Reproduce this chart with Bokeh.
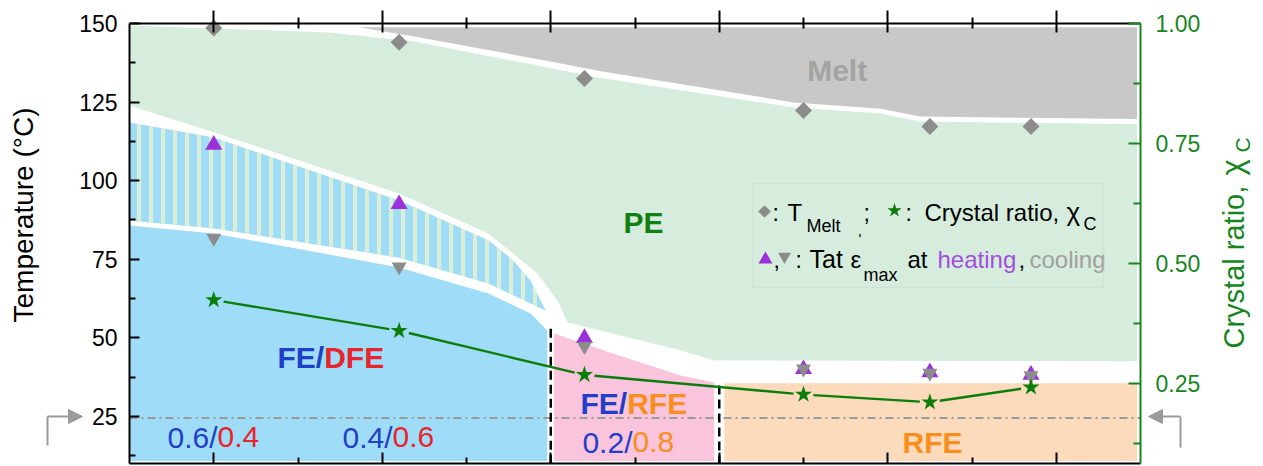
import numpy as np
from bokeh.plotting import figure
from bokeh.models import (LinearAxis, Range1d, FixedTicker, PrintfTickFormatter,
                          Arrow, NormalHead, BoxAnnotation)
from bokeh.core.properties import value
from bokeh.embed import file_html
from bokeh.resources import INLINE

# ----------------------------- data -----------------------------
x_comp = [0.0, 1.1, 2.2, 3.5, 4.25, 4.85]            # sample positions
t_melt = [148.6, 144.0, 132.5, 122.3, 117.2, 117.2]   # T_Melt (diamonds)
t_heat = [111.4, 92.5, 49.9, 40.0, 39.0, 38.2]        # T at eps'max, heating
t_cool = [81.7, 72.6, 47.3, 40.1, 38.8, 38.0]         # T at eps'max, cooling
chi_c = [0.424, 0.360, 0.268, 0.227, 0.211, 0.242]    # crystal ratio

temp_ticks = [25, 50, 75, 100, 125, 150]
chi_ticks = [0.25, 0.50, 0.75, 1.00]
comp_ticks = [0, 1, 2, 3, 4, 5]

ratio_fe = ["0.6/", "0.4/", "0.2/"]
ratio_other = ["0.4", "0.6", "0.8"]

# phase-region boundaries (x, T)
melt_x = [0.86, 5.48, 5.48, 4.19, 3.96, 3.44, 2.28, 2.06, 1.19]
melt_t = [148.8, 148.8, 119.6, 120.4, 122.9, 124.9, 135.0, 137.3, 145.9]
pe_x = [-0.5, 0.69, 1.19, 2.28, 3.44, 3.96, 4.19, 5.48, 5.48, 2.97, 2.77, 2.1,
        2.04, 1.92, 1.63, 1.1, 0.0, -0.5]
pe_t = [149.4, 147.1, 144.3, 132.8, 123.3, 121.4, 118.8, 118.0, 42.5, 42.8, 46.0,
        54.9, 61.9, 70.5, 83.2, 95.9, 115.4, 123.9]
hys_x = [-0.5, 0.0, 1.1, 1.63, 1.77, 1.88, 1.97, 1.88, 1.63, 1.42, 1.1, 0.0, -0.5]
hys_t = [118.5, 113.7, 93.7, 81.0, 75.0, 68.2, 58.7, 60.9, 67.3, 70.5, 75.5, 84.8, 87.3]
fe_x = [-0.5, 0.0, 1.1, 1.63, 1.88, 1.98, 1.98, -0.5]
fe_t = [85.7, 83.2, 72.4, 64.1, 57.7, 52.3, 10.8, 10.8]
ferfe_x = [2.02, 2.37, 2.77, 2.97, 2.97, 2.02]
ferfe_t = [51.4, 45.0, 38.0, 35.8, 10.8, 10.8]
rfe_x = [3.03, 5.48, 5.48, 3.03]
rfe_t = [35.5, 35.5, 10.8, 10.8]
bound_x = [2.0, 3.0]
bound_top = [52.9, 34.8]
t_room = 24.5

# ----------------------------- layout -----------------------------
X0, X1 = -0.5, 5.5
T0, T1 = 10.0, 150.0
C0, C1 = 1.0 / 12.0, 1.0
FL, FR, FT, FB = 129, 1140, 23, 463  # plot-box edges on the page (px)
W, H = 1263, 466
DX = (X1 - X0) / (FR - FL)   # data units per px (x)
DT = (T1 - T0) / (FB - FT)   # data units per px (T)


def X(px):
    return X0 + (px - FL) * DX


def Y(py):
    return T0 + (FB - py) * DT


def Cc(py):
    return C0 + (FB - py) / (FB - FT) * (C1 - C0)


FONT = "Liberation Sans"
BLUE = "#1f3fc8"
RED = "#e8242c"
ORANGE = "#f98e1d"
GREEN = "#17861f"
STAR = "#0b7d0b"
PURPLE = "#9b32d9"
GRAY_M = "#8c8c8c"

p = figure(width=W, height=H, x_range=Range1d(X(0), X(W)), y_range=Range1d(Y(H), Y(0)),
           output_backend="svg", toolbar_location=None,
           x_axis_location=None, y_axis_location=None,
           min_border_left=0, min_border_right=0, min_border_top=0, min_border_bottom=0)
p.outline_line_color = None
p.background_fill_color = "white"
p.border_fill_color = "white"
p.xgrid.visible = False
p.ygrid.visible = False
p.grid.grid_line_color = None
p.extra_y_ranges = {"chi": Range1d(Cc(H), Cc(0))}

# ----------------------------- regions -----------------------------
p.patch(melt_x, melt_t, fill_color="#c8c8c8", line_color=None)
p.patch(pe_x, pe_t, fill_color="#d6ecdc", line_color=None)
p.patch(hys_x, hys_t, fill_color="#9fdcf7", line_color=None,
        hatch_pattern="vertical_line", hatch_color="#dcefd4", hatch_weight=4, hatch_scale=12)
p.patch(fe_x, fe_t, fill_color="#9fdcf7", line_color=None)
p.patch(ferfe_x, ferfe_t, fill_color="#fac4dc", line_color=None)
p.patch(rfe_x, rfe_t, fill_color="#fcdabc", line_color=None)

p.segment(x0=[X0], y0=[t_room], x1=[X1], y1=[t_room], line_color="#9b9b9b",
          line_width=2, line_dash="8 4 2 4")
p.segment(x0=bound_x, y0=bound_top, x1=bound_x, y1=[T0] * len(bound_x),
          line_color="black", line_width=2.5, line_dash="9 5")


def txt(x, y, s, color, size, align="left", style="normal", angle=0.0):
    """x, y give the text baseline start; drawn with a 'middle' baseline."""
    shift = 0.34 * size
    if angle == 0.0:
        y = [v + shift * DT for v in y]
    else:
        x = [v - shift * DX for v in x]
    p.text(x=x, y=y, text=s, text_color=color, text_font=value(FONT),
           text_font_size="%dpx" % size, text_align=align, text_baseline="middle",
           text_font_style=style, angle=angle)


# region labels
txt([3.70], [131.9], ["Melt"], "#a3a3a3", 30, "center", "bold")
txt([2.55], [83.5], ["PE"], "#118011", 30, "center", "bold")
txt([0.6555], [40.5], ["FE/"], BLUE, 30, "right", "bold")
txt([0.6555], [40.5], ["DFE"], RED, 30, "left", "bold")
txt([2.4537], [25.9], ["FE/"], BLUE, 30, "right", "bold")
txt([2.4537], [25.9], ["RFE"], ORANGE, 30, "left", "bold")
txt([4.266], [13.5], ["RFE"], ORANGE, 30, "center", "bold")
ratio_split = [0.0223, 1.0608, 2.485]
ratio_base = [15.1, 15.1, 13.5]
txt(ratio_split, ratio_base, ratio_fe, BLUE, 30, "right")
txt(ratio_split[:2], ratio_base[:2], ratio_other[:2], RED, 30, "left")
txt(ratio_split[2:], ratio_base[2:], ratio_other[2:], ORANGE, 30, "left")

# ----------------------------- data marks -----------------------------
p.scatter(x_comp, t_melt, marker="square", angle=np.pi / 4, size=12,
          fill_color=GRAY_M, line_color=None)
p.scatter(x_comp, t_heat, marker="triangle", size=17, fill_color=PURPLE, line_color=None)
p.scatter(x_comp, t_cool, marker="inverted_triangle", size=15, fill_color=GRAY_M, line_color=None)

kx = (FR - FL) / (X1 - X0)
kc = (FB - FT) / (C1 - C0)
gap = 10.0
s_x0, s_y0, s_x1, s_y1 = [], [], [], []
for i in range(len(x_comp) - 1):
    ddx, ddy = x_comp[i + 1] - x_comp[i], chi_c[i + 1] - chi_c[i]
    L = np.hypot(ddx * kx, ddy * kc)
    f = gap / L
    s_x0.append(x_comp[i] + f * ddx)
    s_y0.append(chi_c[i] + f * ddy)
    s_x1.append(x_comp[i + 1] - f * ddx)
    s_y1.append(chi_c[i + 1] - f * ddy)
p.segment(x0=s_x0, y0=s_y0, x1=s_x1, y1=s_y1, line_color=STAR, line_width=2.4,
          y_range_name="chi")
p.scatter(x_comp, chi_c, marker="star", size=18, fill_color=STAR, line_color=None,
          y_range_name="chi")

# ----------------------------- legend box -----------------------------
p.add_layout(BoxAnnotation(left=X(752), right=X(1103), top=Y(183), bottom=Y(287),
                           fill_alpha=0, line_color="#c3d2c6", line_width=1.5))
p.scatter([X(764)], [Y(211)], marker="square", angle=np.pi / 4, size=9,
          fill_color=GRAY_M, line_color=None)
p.scatter([X(894)], [Y(210)], marker="star", size=15, fill_color=STAR, line_color=None)
p.scatter([X(765)], [Y(259)], marker="triangle", size=14, fill_color=PURPLE, line_color=None)
p.scatter([X(784)], [Y(256)], marker="inverted_triangle", size=13, fill_color=GRAY_M,
          line_color=None)
txt([X(772)], [Y(220)], [":"], "black", 23)
txt([X(787)], [Y(220)], ["T"], "black", 24)
txt([X(806)], [Y(232)], ["Melt"], "black", 18)
txt([X(863)], [Y(220)], [";"], "black", 23)
txt([X(905)], [Y(220)], [":"], "black", 23)
txt([X(924)], [Y(220)], ["Crystal ratio,"], "black", 24)
txt([X(1066)], [Y(220)], ["χ"], "black", 26)
txt([X(1083)], [Y(230)], ["C"], "black", 18)
txt([X(773)], [Y(267)], [","], "black", 23)
txt([X(795)], [Y(267)], [":"], "black", 23)
txt([X(809)], [Y(267)], ["Tat"], "black", 25)
txt([X(850)], [Y(267)], ["ε"], "black", 24)
txt([X(858)], [Y(243)], ["'"], "black", 15)
txt([X(863)], [Y(281)], ["max"], "black", 18)
txt([X(907)], [Y(267)], ["at"], "black", 24)
txt([X(937)], [Y(267)], ["heating"], "#a24fe0", 24)
txt([X(1018)], [Y(267)], [","], "black", 24)
txt([X(1029)], [Y(267)], ["cooling"], "#a0a0a0", 24)

# axis titles
txt([X(33)], [Y(322)], ["Temperature (°C)"], "black", 28, angle=np.pi / 2)
txt([X(1243)], [Y(348)], ["Crystal ratio,"], GREEN, 29, angle=np.pi / 2)
txt([X(1243)], [Y(175)], ["χ"], GREEN, 31, angle=np.pi / 2)
txt([X(1249)], [Y(152)], ["C"], GREEN, 21, angle=np.pi / 2)

# room-temperature arrows beside the axes
AG = "#9a9a9a"
p.add_layout(Arrow(x_start=X(47), y_start=Y(445), x_end=X(47), y_end=Y(416), end=None,
                   line_color=AG, line_width=2))
p.add_layout(Arrow(x_start=X(47), y_start=Y(416), x_end=X(82), y_end=Y(416),
                   end=NormalHead(size=14, fill_color=AG, line_color=AG),
                   line_color=AG, line_width=2))
p.add_layout(Arrow(x_start=X(1180), y_start=Y(416), x_end=X(1148), y_end=Y(416),
                   end=NormalHead(size=14, fill_color=AG, line_color=AG),
                   line_color=AG, line_width=2))
p.add_layout(Arrow(x_start=X(1180), y_start=Y(416), x_end=X(1180), y_end=Y(447), end=None,
                   line_color=AG, line_width=2))

# ----------------------------- axes -----------------------------
minor_x = [c + 0.5 for c in comp_ticks[:-1]]
left = LinearAxis(fixed_location=X0, bounds=(T0, T1),
                  ticker=FixedTicker(ticks=temp_ticks, minor_ticks=[t - 12.5 for t in temp_ticks]))
right = LinearAxis(fixed_location=X1, bounds=(C0, C1), y_range_name="chi",
                   ticker=FixedTicker(ticks=chi_ticks, minor_ticks=[c - 0.125 for c in chi_ticks]),
                   formatter=PrintfTickFormatter(format="%.2f"))
top = LinearAxis(fixed_location=T1, bounds=(X0, X1),
                 ticker=FixedTicker(ticks=comp_ticks, minor_ticks=minor_x))
bottom = LinearAxis(fixed_location=T0, bounds=(X0, X1),
                    ticker=FixedTicker(ticks=comp_ticks, minor_ticks=minor_x))

for ax, col in ((left, "black"), (right, GREEN), (top, "black"), (bottom, "black")):
    ax.axis_line_color = col
    ax.axis_line_width = 2
    ax.major_tick_line_color = col
    ax.minor_tick_line_color = col
    ax.major_tick_line_width = 2
    ax.minor_tick_line_width = 2
    ax.major_label_text_font = FONT
    ax.major_label_text_color = col
    ax.major_label_text_font_size = "23px"

left.major_tick_in, left.major_tick_out = 10, 0
left.minor_tick_in, left.minor_tick_out = 6, 0
left.major_label_standoff = 12
right.major_tick_in, right.major_tick_out = 12, 0
right.minor_tick_in, right.minor_tick_out = 7, 0
right.major_label_standoff = 15
top.major_tick_in, top.major_tick_out = 9, 13
top.minor_tick_in, top.minor_tick_out = 5, 6
top.major_label_text_font_size = "0px"
top.major_label_text_alpha = 0
bottom.major_tick_in, bottom.major_tick_out = 11, 0
bottom.minor_tick_in, bottom.minor_tick_out = 6, 0
bottom.major_label_text_font_size = "0px"
bottom.major_label_text_alpha = 0

p.add_layout(left, "left")
p.add_layout(right, "right")
p.add_layout(top, "above")
p.add_layout(bottom, "below")

open("out.html", "w").write(file_html(p, INLINE))
